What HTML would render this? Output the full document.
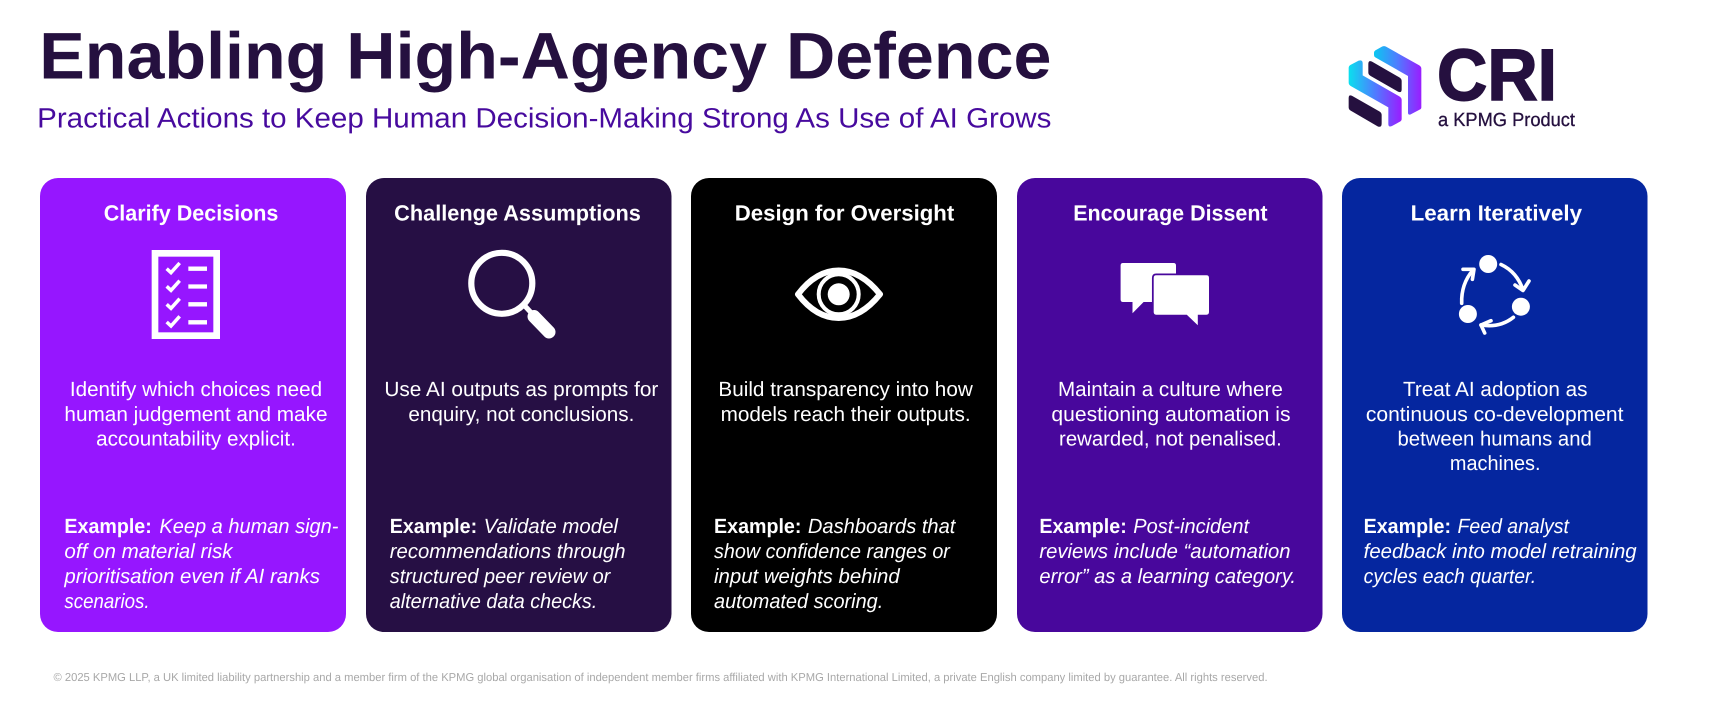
<!DOCTYPE html>
<html><head><meta charset="utf-8"><style>
html,body{margin:0;padding:0;background:#fff;width:1712px;height:712px;overflow:hidden}
svg{display:block}
text{font-family:"Liberation Sans",sans-serif;text-rendering:geometricPrecision}
.t{font-size:22px;font-weight:700;fill:#fff}
.b{font-size:20.5px;fill:#fff}
.e{font-size:20.5px;font-weight:700;fill:#fff}
.i{font-size:20.5px;font-style:italic;fill:#fff}
</style></head><body>
<svg width="1712" height="712" viewBox="0 0 1712 712" xmlns="http://www.w3.org/2000/svg">
<defs>
<linearGradient id="g" x1="222" y1="0" x2="364" y2="0" gradientUnits="userSpaceOnUse"><stop offset="0" stop-color="#0ac8f0"/><stop offset=".5" stop-color="#4f7cff"/><stop offset="1" stop-color="#9a1cff"/></linearGradient>
<linearGradient id="h" x1="146" y1="0" x2="305" y2="0" gradientUnits="userSpaceOnUse"><stop offset="0" stop-color="#0ae0ee"/><stop offset=".5" stop-color="#4f7cff"/><stop offset="1" stop-color="#9a1cff"/></linearGradient>
</defs>
<rect width="1712" height="712" fill="#fff"/>
<rect x="40" y="178" width="306" height="454" rx="18" fill="#9616ff"/>
<rect x="366" y="178" width="305.5" height="454" rx="18" fill="#260f44"/>
<rect x="691" y="178" width="306" height="454" rx="18" fill="#000"/>
<rect x="1017" y="178" width="305.5" height="454" rx="18" fill="#48079c"/>
<rect x="1342" y="178" width="305.5" height="454" rx="18" fill="#05269f"/>

<g transform="scale(1.0918,1)">
<text x="36" y="78.5" font-size="66" font-weight="700" fill="#25103f" textLength="927" lengthAdjust="spacingAndGlyphs">Enabling High-Agency Defence</text>
<text x="34" y="127.5" font-size="28" fill="#470a9e" textLength="929" lengthAdjust="spacingAndGlyphs">Practical Actions to Keep Human Decision-Making Strong As Use of AI Grows</text>

<text class="t" x="95" y="220.500" textLength="160" lengthAdjust="spacingAndGlyphs">Clarify Decisions</text>
<text class="t" x="361" y="220.500" textLength="226" lengthAdjust="spacingAndGlyphs">Challenge Assumptions</text>
<text class="t" x="673" y="220.500" textLength="201" lengthAdjust="spacingAndGlyphs">Design for Oversight</text>
<text class="t" x="983" y="220.500" textLength="178" lengthAdjust="spacingAndGlyphs">Encourage Dissent</text>
<text class="t" x="1292" y="220.500" textLength="157" lengthAdjust="spacingAndGlyphs">Learn Iteratively</text>

<text class="b" x="64" y="396" textLength="231" lengthAdjust="spacingAndGlyphs">Identify which choices need</text>
<text class="b" x="59" y="421" textLength="241" lengthAdjust="spacingAndGlyphs">human judgement and make</text>
<text class="b" x="88" y="445.5" textLength="183" lengthAdjust="spacingAndGlyphs">accountability explicit.</text>

<text class="b" x="352" y="396" textLength="251" lengthAdjust="spacingAndGlyphs">Use AI outputs as prompts for</text>
<text class="b" x="374" y="421" textLength="207" lengthAdjust="spacingAndGlyphs">enquiry, not conclusions.</text>

<text class="b" x="658" y="396" textLength="233" lengthAdjust="spacingAndGlyphs">Build transparency into how</text>
<text class="b" x="660" y="421" textLength="229" lengthAdjust="spacingAndGlyphs">models reach their outputs.</text>

<text class="b" x="969" y="396" textLength="206" lengthAdjust="spacingAndGlyphs">Maintain a culture where</text>
<text class="b" x="963" y="421" textLength="219" lengthAdjust="spacingAndGlyphs">questioning automation is</text>
<text class="b" x="970" y="445.5" textLength="204" lengthAdjust="spacingAndGlyphs">rewarded, not penalised.</text>

<text class="b" x="1285" y="396" textLength="169" lengthAdjust="spacingAndGlyphs">Treat AI adoption as</text>
<text class="b" x="1251" y="421" textLength="236" lengthAdjust="spacingAndGlyphs">continuous co-development</text>
<text class="b" x="1280" y="445.5" textLength="178" lengthAdjust="spacingAndGlyphs">between humans and</text>
<text class="b" x="1328" y="470" textLength="83" lengthAdjust="spacingAndGlyphs">machines.</text>

<text class="e" x="59" y="533" textLength="80" lengthAdjust="spacingAndGlyphs">Example:</text>
<text class="i" x="146" y="533" textLength="164" lengthAdjust="spacingAndGlyphs">Keep a human sign-</text>
<text class="i" x="59" y="558" textLength="154" lengthAdjust="spacingAndGlyphs">off on material risk</text>
<text class="i" x="59" y="583" textLength="234" lengthAdjust="spacingAndGlyphs">prioritisation even if AI ranks</text>
<text class="i" x="59" y="608" textLength="78" lengthAdjust="spacingAndGlyphs">scenarios.</text>

<text class="e" x="357" y="533" textLength="80" lengthAdjust="spacingAndGlyphs">Example:</text>
<text class="i" x="443" y="533" textLength="123" lengthAdjust="spacingAndGlyphs">Validate model</text>
<text class="i" x="357" y="558" textLength="216" lengthAdjust="spacingAndGlyphs">recommendations through</text>
<text class="i" x="357" y="583" textLength="202" lengthAdjust="spacingAndGlyphs">structured peer review or</text>
<text class="i" x="357" y="608" textLength="190" lengthAdjust="spacingAndGlyphs">alternative data checks.</text>

<text class="e" x="654" y="533" textLength="80" lengthAdjust="spacingAndGlyphs">Example:</text>
<text class="i" x="740" y="533" textLength="135" lengthAdjust="spacingAndGlyphs">Dashboards that</text>
<text class="i" x="654" y="558" textLength="216" lengthAdjust="spacingAndGlyphs">show confidence ranges or</text>
<text class="i" x="654" y="583" textLength="170" lengthAdjust="spacingAndGlyphs">input weights behind</text>
<text class="i" x="654" y="608" textLength="155" lengthAdjust="spacingAndGlyphs">automated scoring.</text>

<text class="e" x="952" y="533" textLength="80" lengthAdjust="spacingAndGlyphs">Example:</text>
<text class="i" x="1038" y="533" textLength="106" lengthAdjust="spacingAndGlyphs">Post-incident</text>
<text class="i" x="952" y="558" textLength="230" lengthAdjust="spacingAndGlyphs">reviews include “automation</text>
<text class="i" x="952" y="583" textLength="235" lengthAdjust="spacingAndGlyphs">error” as a learning category.</text>

<text class="e" x="1249" y="533" textLength="80" lengthAdjust="spacingAndGlyphs">Example:</text>
<text class="i" x="1335" y="533" textLength="102" lengthAdjust="spacingAndGlyphs">Feed analyst</text>
<text class="i" x="1249" y="558" textLength="250" lengthAdjust="spacingAndGlyphs">feedback into model retraining</text>
<text class="i" x="1249" y="583" textLength="158" lengthAdjust="spacingAndGlyphs">cycles each quarter.</text>

<text x="49" y="681" font-size="11.5" fill="#a8a8a8" textLength="1112" lengthAdjust="spacingAndGlyphs">© 2025 KPMG LLP, a UK limited liability partnership and a member firm of the KPMG global organisation of independent member firms affiliated with KPMG International Limited, a private English company limited by guarantee. All rights reserved.</text>
</g>

<!-- logo -->
<g transform="translate(1300,0) scale(.33333)">
<path d="M222 158 Q222 154 226 151 L246 140 Q252 137 258 140 L358 196 Q364 200 364 206 L364 322 Q364 327 359 329 L332 343 Q324 346 324 338 L324 228 L226 172 Q222 170 222 165Z" fill="url(#g)"/>
<path d="M146 204 Q146 198 151 195 L176 182 Q188 178 188 190 L188 226 L298 289 Q305 293 305 300 L305 357 Q305 362 300 365 L276 378 Q265 383 265 372 L265 322 L152 258 Q146 254 146 248Z" fill="url(#h)"/>
<path d="M205 192 Q205 180 216 185 L298 232 Q305 236 305 243 L305 268 Q305 280 294 275 L212 228 Q205 224 205 218Z" fill="#25103f"/>
<path d="M146 294 Q146 282 157 288 L238 334 Q245 338 245 345 L245 370 Q245 384 233 379 L152 332 Q146 328 146 322Z" fill="#25103f"/>
</g>
<text x="1437" y="100" font-size="73" font-weight="700" fill="#25103f" stroke="#25103f" stroke-width="1.6" textLength="120" lengthAdjust="spacingAndGlyphs">CRI</text>
<text x="1438" y="126" font-size="19" fill="#25103f" stroke="#25103f" stroke-width=".3" textLength="137" lengthAdjust="spacingAndGlyphs">a KPMG Product</text>

<!-- checklist -->
<g transform="translate(30,170) scale(.33333)" fill="none" stroke="#fff">
<rect x="375" y="250" width="185" height="247" stroke-width="20"/>
<path d="M475 296H531M475 349.500H531M475 403H531M475 457H531" stroke-width="13"/>
<path d="M410 296L423 308L449 279M410 349L423 361L449 332M410 403L423 415L449 386M410 456L423 468L449 439" stroke-width="10.500"/>
</g>

<!-- magnifier -->
<circle cx="501.800" cy="283.300" r="30.500" fill="none" stroke="#fff" stroke-width="6.200"/>
<path d="M524 305L536 318" stroke="#fff" stroke-width="5"/>
<path d="M534 316.500L549 332" stroke="#fff" stroke-width="13" stroke-linecap="round"/>

<!-- eye -->
<path d="M798 294.300Q816 270.500 838.700 270.500Q861 270.500 880 294.300Q861 318 838.700 318Q816 318 798 294.300Z" fill="none" stroke="#fff" stroke-width="6" stroke-linejoin="round"/>
<circle cx="838.700" cy="294.300" r="20" fill="none" stroke="#fff" stroke-width="4"/>
<circle cx="838.700" cy="294.300" r="11" fill="#fff"/>

<!-- chat -->
<path d="M1123 263H1173.500Q1176 263 1176 265.500V299.500Q1176 302 1173.500 302H1143.600L1132.500 313.300V302H1123Q1120.600 302 1120.600 299.500V265.500Q1120.600 263 1123 263Z" fill="#fff"/>
<path d="M1156.200 275.300H1206.400Q1209 275.300 1209 278V312Q1209 314.700 1206.400 314.700H1197.800V325.300L1186.800 314.700H1156.200Q1153.700 314.700 1153.700 312V278Q1153.700 275.300 1156.200 275.300Z" fill="#fff" stroke="#48079c" stroke-width="3.500" paint-order="stroke"/>

<!-- cycle -->
<g fill="#fff"><circle cx="1488.200" cy="264" r="9"/><circle cx="1520.900" cy="306.700" r="9"/><circle cx="1467.900" cy="314" r="9"/></g>
<g fill="none" stroke="#fff" stroke-width="3.600" stroke-linecap="round" stroke-linejoin="round">
<path d="M1501 264.500Q1517 272 1523 290"/><path d="M1515 285L1523 290.500L1529 281"/>
<path d="M1513.400 317.300Q1500 328 1481 325"/><path d="M1491 320.700L1481 325L1484.700 333"/>
<path d="M1461.700 303.300Q1461 284 1473 270"/><path d="M1463 269.300H1474L1472.400 279.300"/>
</g>
</svg>
</body></html>
